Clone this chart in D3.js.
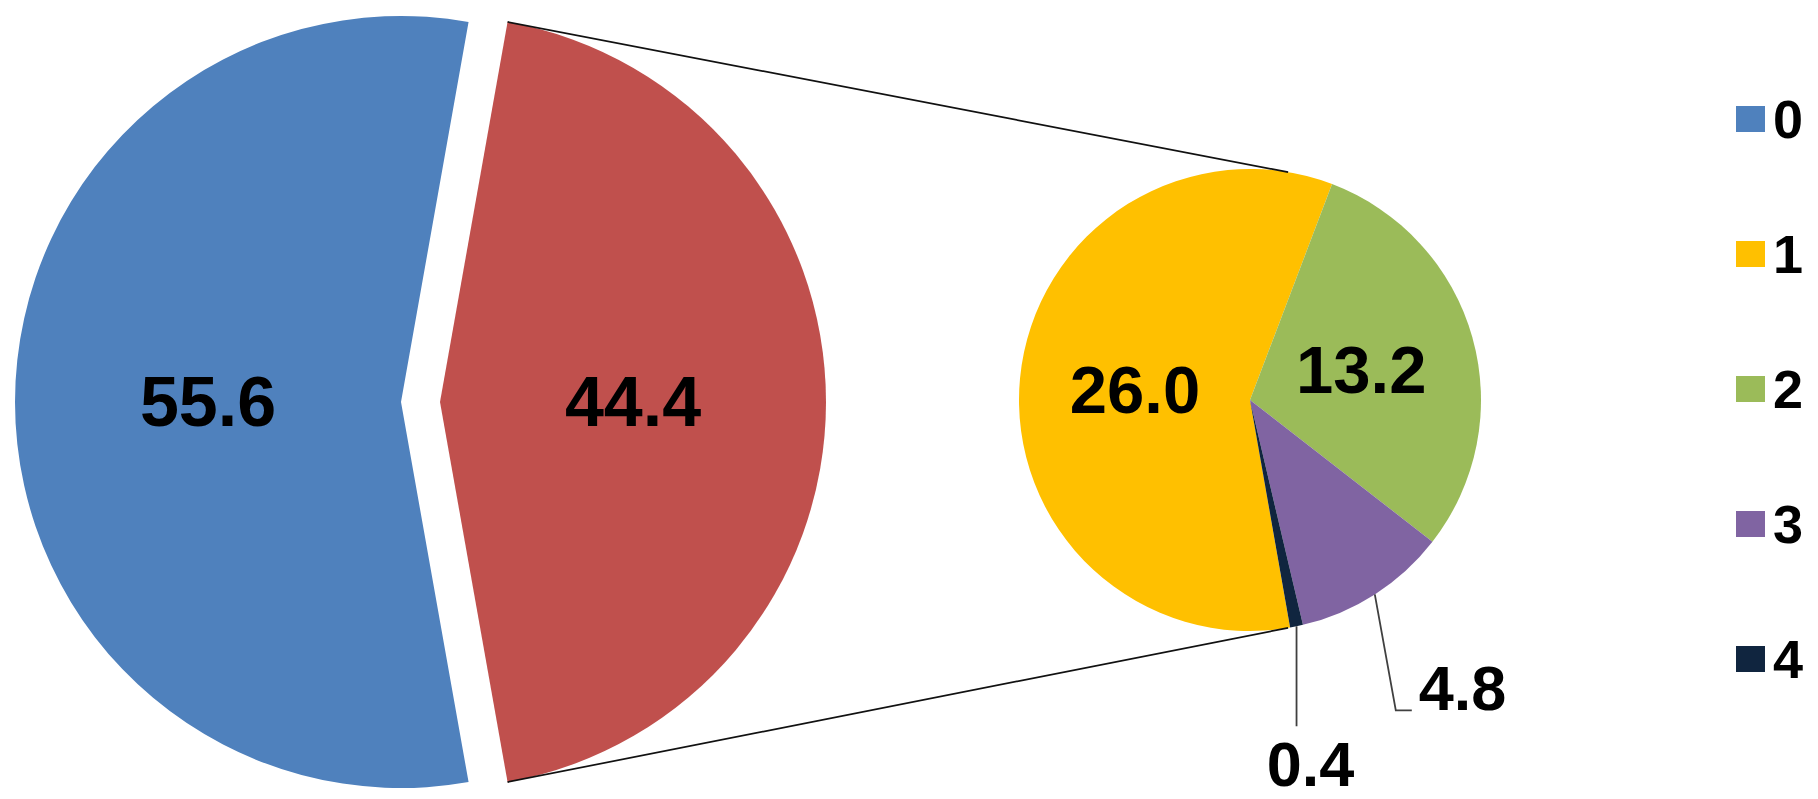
<!DOCTYPE html>
<html>
<head>
<meta charset="utf-8">
<script src="https://cdn.jsdelivr.net/npm/d3@7"></script>
<style>
  html, body { margin: 0; padding: 0; background: #ffffff; }
  svg { display: block; }
  text { font-family: "Liberation Sans", Arial, sans-serif; font-weight: bold; fill: #000; }
</style>
</head>
<body>
<svg id="chart" width="1818" height="799"></svg>
<script>
// Categories and their shares (%)
const categories = ["0", "1", "2", "3", "4"];
const values = [55.6, 26.0, 13.2, 4.8, 0.4];
const colors = ["#4F81BD", "#FFC000", "#9BBB59", "#8064A2", "#10253F"];

// The main pie shows category 0 and the combined remainder;
// the remainder is broken out in the secondary pie.
const mainValues = [values[0], d3.sum(values.slice(1))];
const mainColors = [colors[0], "#C0504D"];
const detailValues = values.slice(1);
const detailColors = colors.slice(1);
const fmt = d3.format(".1f");

const svg = d3.select("#chart");
const deg = Math.PI / 180;

// ---------- main pie ----------
const main = { cx: 401, cy: 402, r: 386, explode: 39 };
const otherSpan = mainValues[1] / d3.sum(mainValues) * 2 * Math.PI;
// the remainder slice is centred on the 3 o'clock direction
const mainPie = d3.pie().sort(null)
  .startAngle(Math.PI / 2 + otherSpan / 2)
  .endAngle(Math.PI / 2 + otherSpan / 2 + 2 * Math.PI);
const mainArcs = mainPie(mainValues);
const mainArc = d3.arc().innerRadius(0).outerRadius(main.r);

const gMain = svg.append("g").attr("transform", `translate(${main.cx},${main.cy})`);
const mainSlices = gMain.selectAll("g.slice").data(mainArcs).join("g")
  .attr("class", "slice")
  .attr("transform", (d, i) => {
    if (i === 0) return null;
    const a = (d.startAngle + d.endAngle) / 2;
    return `translate(${main.explode * Math.sin(a)},${-main.explode * Math.cos(a)})`;
  });
mainSlices.append("path")
  .attr("d", mainArc)
  .attr("fill", (d, i) => mainColors[i]);
mainSlices.append("text")
  .attr("transform", d => `translate(${mainArc.centroid(d)})`)
  .attr("text-anchor", "middle")
  .attr("dy", "0.34em")
  .style("font-size", "70px")
  .text(d => fmt(d.value));

// ---------- secondary pie ----------
const sub = { cx: 1250, cy: 400, r: 231 };
const detailStart = 170 * deg;
const subPie = d3.pie().sort(null)
  .startAngle(detailStart)
  .endAngle(detailStart + 2 * Math.PI);
const subArcs = subPie(detailValues);
const subArc = d3.arc().innerRadius(0).outerRadius(sub.r);

const gSub = svg.append("g").attr("transform", `translate(${sub.cx},${sub.cy})`);
gSub.selectAll("path").data(subArcs).join("path")
  .attr("d", subArc)
  .attr("fill", (d, i) => detailColors[i]);

// ---------- series lines joining the two pies ----------
const otherArc = mainArcs[1];
const otherMid = (otherArc.startAngle + otherArc.endAngle) / 2;
const ox = main.cx + main.explode * Math.sin(otherMid);
const oy = main.cy - main.explode * Math.cos(otherMid);
const edge = (cx, cy, r, a) => [cx + r * Math.sin(a), cy - r * Math.cos(a)];
const joinAngles = [9.5 * deg, 170.5 * deg];
const seriesLines = [
  [edge(ox, oy, main.r, otherArc.startAngle), edge(sub.cx, sub.cy, sub.r, joinAngles[0])],
  [edge(ox, oy, main.r, otherArc.endAngle), edge(sub.cx, sub.cy, sub.r, joinAngles[1])]
];
svg.append("g").selectAll("line").data(seriesLines).join("line")
  .attr("x1", d => d[0][0]).attr("y1", d => d[0][1])
  .attr("x2", d => d[1][0]).attr("y2", d => d[1][1])
  .attr("stroke", "#111").attr("stroke-width", 1.7);

// ---------- secondary pie labels ----------
// large slices: inside at the centroid; thin slices: outside with leader lines
const inside = subArcs.filter(d => d.value >= 10);
gSub.selectAll("text.inside").data(inside).join("text")
  .attr("class", "inside")
  .attr("transform", d => `translate(${subArc.centroid(d)})`)
  .attr("text-anchor", "middle")
  .attr("dy", "0.36em")
  .style("font-size", "67px")
  .text(d => fmt(d.value));

// leader line shapes, relative to the slice edge point
const leaders = {
  "4.8": { path: [[0, 0], [21, 116], [37, 116]], label: [44, 116], anchor: "start" },
  "0.4": { path: [[0, 0], [0, 100]], label: [14, 160], anchor: "middle" }
};
const outside = subArcs.filter(d => d.value < 10);
outside.forEach(d => {
  const key = fmt(d.value);
  const mid = (d.startAngle + d.endAngle) / 2;
  const p = edge(0, 0, sub.r, mid);
  const L = leaders[key];
  gSub.append("path")
    .attr("d", d3.line()(L.path.map(q => [p[0] + q[0], p[1] + q[1]])))
    .attr("fill", "none")
    .attr("stroke", "#404040")
    .attr("stroke-width", 1.8);
  gSub.append("text")
    .attr("x", p[0] + L.label[0])
    .attr("y", p[1] + L.label[1])
    .attr("text-anchor", L.anchor)
    .style("font-size", "63px")
    .text(key);
});

// ---------- legend ----------
const legend = svg.append("g").attr("transform", "translate(1736,119)");
const rows = legend.selectAll("g").data(categories).join("g")
  .attr("transform", (d, i) => `translate(0,${i * 135})`);
rows.append("rect")
  .attr("x", 0).attr("y", -13).attr("width", 29).attr("height", 26)
  .attr("fill", (d, i) => colors[i]);
rows.append("text")
  .attr("x", 37).attr("dy", "0.36em")
  .style("font-size", "54px")
  .text(d => d);
</script>
</body>
</html>
